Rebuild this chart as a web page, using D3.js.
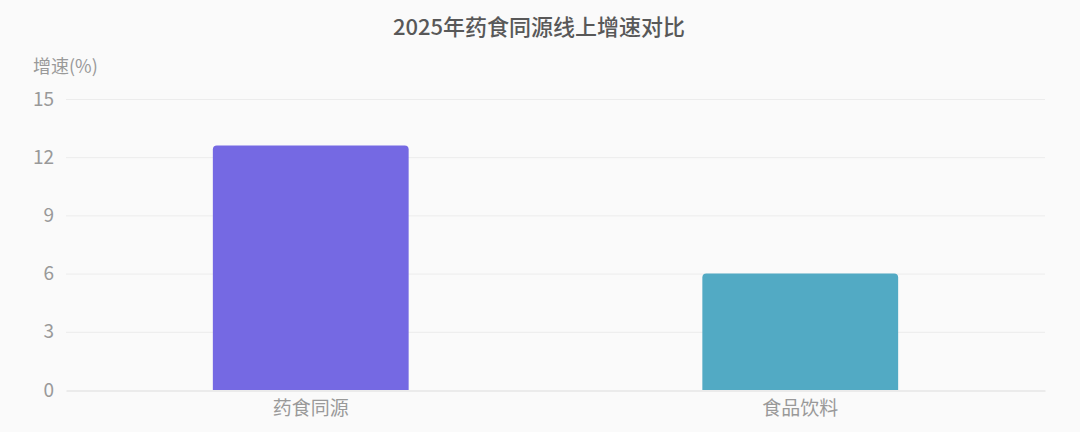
<!DOCTYPE html>
<html>
<head>
<meta charset="utf-8">
<script src="https://cdn.jsdelivr.net/npm/d3@7"></script>
<style>
  html, body { margin: 0; padding: 0; background: #fafafa; }
  svg { display: block; font-family: "Noto Sans CJK SC", "Noto Sans", sans-serif; }
</style>
</head>
<body>
<svg id="chart" width="1080" height="432"></svg>
<script>
var categories = [ '药食同源', '食品饮料' ],
    growth = [ 12.6, 6.0 ],
    barColors = [ '#7569e3', '#52aac4' ],
    yTicks = [ 0, 3, 6, 9, 12, 15 ];

var width = 1080,
    height = 432,
    margin = { top: 99, right: 35, bottom: 42, left: 66 };

var svg = d3.select( '#chart' );

svg.append( 'rect' )
    .attr( 'width', width )
    .attr( 'height', height )
    .attr( 'fill', '#fafafa' );

var x = d3.scaleBand()
    .domain( categories )
    .range( [ margin.left, width - margin.right ] )
    .paddingInner( 0.6 )
    .paddingOuter( 0.3 );

var y = d3.scaleLinear()
    .domain( [ 0, 15 ] )
    .range( [ height - margin.bottom, margin.top ] );

// title
svg.append( 'text' )
    .attr( 'x', width / 2 - 1 )
    .attr( 'y', 35 )
    .attr( 'text-anchor', 'middle' )
    .attr( 'font-size', 22 )
    .attr( 'font-weight', 500 )
    .attr( 'fill', '#585858' )
    .text( '2025年药食同源线上增速对比' );

// y axis name
svg.append( 'text' )
    .attr( 'x', 33 )
    .attr( 'y', 73 )
    .attr( 'font-size', 18 )
    .attr( 'fill', '#999' )
    .text( '增速(%)' );

// grid lines
svg.append( 'g' )
    .selectAll( 'line' )
    .data( yTicks.filter( function( d ) { return d > 0; } ) )
    .enter().append( 'line' )
    .attr( 'x1', margin.left )
    .attr( 'x2', width - margin.right )
    .attr( 'y1', function( d ) { return y( d ) + 0.5; } )
    .attr( 'y2', function( d ) { return y( d ) + 0.5; } )
    .attr( 'stroke', '#ececec' );

// y axis labels
var yAxis = d3.axisLeft( y ).tickValues( yTicks ).tickSize( 0 ).tickPadding( 12 );
var gy = svg.append( 'g' )
    .attr( 'transform', 'translate(' + margin.left + ',0)' )
    .call( yAxis );
gy.select( '.domain' ).remove();
gy.selectAll( 'text' )
    .attr( 'font-size', 19 )
    .attr( 'fill', '#999' )
    .attr( 'font-family', '"Noto Sans CJK SC", "Noto Sans", sans-serif' );

// bars with rounded top corners
var r = 4;
svg.append( 'g' )
    .selectAll( 'path' )
    .data( categories )
    .enter().append( 'path' )
    .attr( 'fill', function( d, i ) { return barColors[ i ]; } )
    .attr( 'd', function( d, i ) {
        var x0 = x( d ), w = x.bandwidth(),
            y0 = y( growth[ i ] ), y1 = y( 0 );
        return 'M' + x0 + ',' + y1 +
            'V' + ( y0 + r ) +
            'Q' + x0 + ',' + y0 + ' ' + ( x0 + r ) + ',' + y0 +
            'H' + ( x0 + w - r ) +
            'Q' + ( x0 + w ) + ',' + y0 + ' ' + ( x0 + w ) + ',' + ( y0 + r ) +
            'V' + y1 + 'Z';
    } );

// x axis
var xAxis = d3.axisBottom( x ).tickSize( 0 ).tickPadding( 12 );
var gx = svg.append( 'g' )
    .attr( 'transform', 'translate(0,' + y( 0 ) + ')' )
    .call( xAxis );
gx.select( '.domain' )
    .attr( 'stroke', '#dcdcdc' )
    .attr( 'transform', 'translate(0,0.5)' );
gx.selectAll( 'text' )
    .attr( 'font-size', 19 )
    .attr( 'fill', '#999' )
    .attr( 'font-family', '"Noto Sans CJK SC", "Noto Sans", sans-serif' );
</script>
</body>
</html>
